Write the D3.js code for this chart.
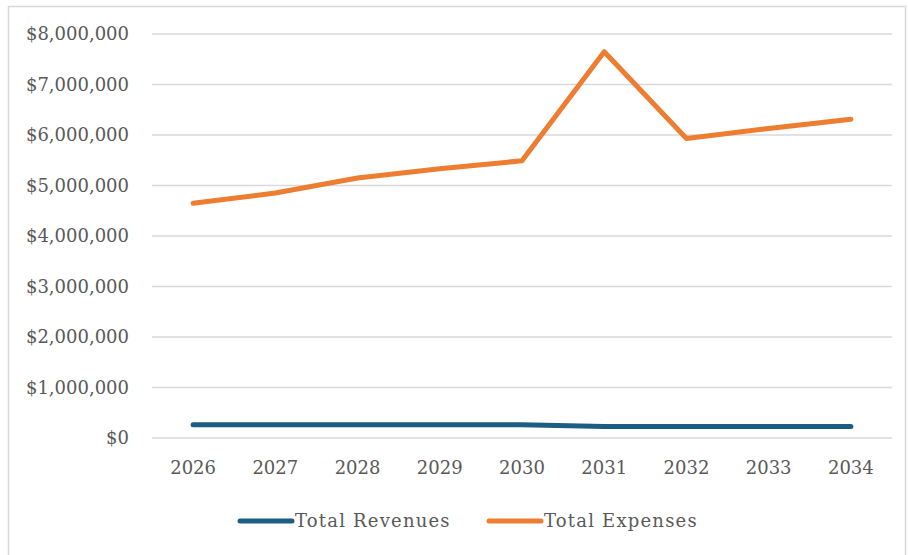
<!DOCTYPE html>
<html lang="en">
<head>
<meta charset="UTF-8">
<title>Revenues vs Expenses</title>
<script src="https://d3js.org/d3.v7.min.js"></script>
<style>
  body { margin: 0; background: #fff; }
  text { font-family: "DejaVu Serif", "Liberation Serif", serif; fill: #595959; }
  .grid line { stroke: #d9d9d9; stroke-width: 1.5px; }
</style>
</head>
<body>
<div id="chart"></div>
<script>
var years = ["2026", "2027", "2028", "2029", "2030", "2031", "2032", "2033", "2034"];
var revenues = [260000, 260000, 260000, 260000, 260000, 230000, 230000, 230000, 230000];
var expenses = [4650000, 4850000, 5150000, 5330000, 5490000, 7650000, 5930000, 6130000, 6310000];
var yTicks = [0, 1000000, 2000000, 3000000, 4000000, 5000000, 6000000, 7000000, 8000000];
var seriesNames = ["Total Revenues", "Total Expenses"];
var seriesColors = ["#1b5e82", "#ed7d31"];

var width = 908, height = 555;
var svg = d3.select("#chart").append("svg")
    .attr("width", width)
    .attr("height", height);

// chart frame
svg.append("rect")
    .attr("x", 8.5).attr("y", 6.5)
    .attr("width", 897).attr("height", 560)
    .attr("fill", "none")
    .attr("stroke", "#d9d9d9")
    .attr("stroke-width", 1.5);

var x = d3.scaleBand().domain(years).range([152, 892]);
var y = d3.scaleLinear().domain([0, 8000000]).range([438, 34]);

var fmt = function(d) { return "$" + d3.format(",")(d); };

svg.append("g").attr("class", "grid")
  .selectAll("line")
  .data(yTicks)
  .enter().append("line")
    .attr("x1", 152).attr("x2", 892)
    .attr("y1", function(d) { return y(d); })
    .attr("y2", function(d) { return y(d); });

svg.append("g")
  .selectAll("text")
  .data(yTicks)
  .enter().append("text")
    .attr("x", 129)
    .attr("y", function(d) { return y(d); })
    .attr("dy", "0.35em")
    .attr("text-anchor", "end")
    .style("font-size", "18px")
    .text(fmt);

svg.append("g")
  .selectAll("text")
  .data(years)
  .enter().append("text")
    .attr("x", function(d) { return x(d) + x.bandwidth() / 2; })
    .attr("y", 474)
    .attr("text-anchor", "middle")
    .style("font-size", "18px")
    .text(function(d) { return d; });

var line = d3.line()
    .x(function(d, i) { return x(years[i]) + x.bandwidth() / 2; })
    .y(function(d) { return y(d); });

[revenues, expenses].forEach(function(s, i) {
  svg.append("path")
    .datum(s)
    .attr("d", line)
    .attr("fill", "none")
    .attr("stroke", seriesColors[i])
    .attr("stroke-width", 5)
    .attr("stroke-linecap", "round")
    .attr("stroke-linejoin", "round");
});

// legend
var legendX = [240, 489];
seriesNames.forEach(function(name, i) {
  var g = svg.append("g").attr("transform", "translate(" + legendX[i] + ",521)");
  g.append("line")
    .attr("x1", 0).attr("x2", 52)
    .attr("stroke", seriesColors[i])
    .attr("stroke-width", 5)
    .attr("stroke-linecap", "round");
  g.append("text")
    .attr("x", 55)
    .attr("dy", "0.35em")
    .style("font-size", "18px")
    .style("letter-spacing", "1.2px")
    .text(name);
});
</script>
</body>
</html>
